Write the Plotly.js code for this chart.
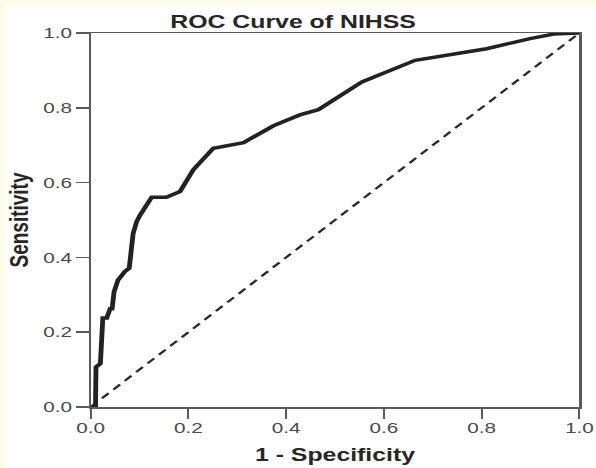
<!DOCTYPE html>
<html>
<head>
<meta charset="utf-8">
<script src="https://cdn.plot.ly/plotly-3.0.1.min.js"></script>
<style>
html,body{margin:0;padding:0;background:#fdfbea;width:596px;height:468px;overflow:hidden;}
#chart{position:absolute;left:5px;top:5px;width:428px;height:463px;transform:scaleX(1.38084);transform-origin:0 0;background:#fff;}
</style>
</head>
<body>
<div id="chart"></div>
<script>
// ROC curve points: 1 - Specificity (false positive rate) vs Sensitivity
const fpr = [0, 0.010, 0.011, 0.020, 0.025, 0.033, 0.040, 0.044, 0.048, 0.056, 0.070, 0.079, 0.087, 0.094, 0.101, 0.125, 0.155, 0.183, 0.210, 0.251, 0.313, 0.374, 0.428, 0.466, 0.555, 0.664, 0.810, 0.899, 0.947, 0.995, 1.000];
const tpr = [0, 0.000, 0.107, 0.116, 0.238, 0.238, 0.263, 0.263, 0.308, 0.339, 0.362, 0.371, 0.464, 0.495, 0.513, 0.561, 0.561, 0.576, 0.634, 0.692, 0.707, 0.752, 0.781, 0.795, 0.869, 0.927, 0.958, 0.985, 0.997, 1.000, 1.000];
// Reference (chance) diagonal
const refX = [0, 1];
const refY = [0, 1];
// Tick values and labels
const tickVals = [0, 0.2, 0.4, 0.6, 0.8, 1.0];
const tickText = ['0.0', '0.2', '0.4', '0.6', '0.8', '1.0'];

const FONT = 'Liberation Sans, Arial, Helvetica, sans-serif';

const traces = [
  {x: refX, y: refY, type: 'scatter', mode: 'lines',
   line: {color: '#2a2a2a', width: 2, dash: '7px,5px'}, hoverinfo: 'skip'},
  {x: fpr, y: tpr, type: 'scatter', mode: 'lines',
   line: {color: '#222222', width: 3.5}, hoverinfo: 'skip'}
];

const axisCommon = {
  range: [0, 1], tickvals: tickVals, ticktext: tickText,
  showgrid: false, zeroline: false, showline: true, mirror: true,
  linecolor: '#5a5a5a', linewidth: 1.5,
  ticks: 'outside', tickcolor: '#5a5a5a', tickwidth: 1.5,
  tickfont: {family: FONT, size: 15, color: '#4a4a4a'},
  fixedrange: true
};

const layout = {
  width: 428, height: 463,
  paper_bgcolor: '#ffffff', plot_bgcolor: '#ffffff',
  showlegend: false,
  margin: {l: 62, r: 12, t: 28, b: 61},
  title: {text: 'ROC Curve of NIHSS', xref: 'container', yref: 'container',
          x: 0.4874, xanchor: 'center', y: 1 - 17/463, yanchor: 'middle',
          font: {family: FONT, size: 18, color: '#262626', weight: 700}},
  xaxis: Object.assign({}, axisCommon, {ticklen: 10, ticklabelstandoff: -3,
          title: {text: '1 - Specificity', standoff: 13,
                  font: {family: FONT, size: 18, color: '#262626', weight: 700}}}),
  yaxis: Object.assign({}, axisCommon, {ticklen: 9,
          title: {text: 'Sensitivity', standoff: 8,
                  font: {family: FONT, size: 19, color: '#262626', weight: 700}}})
};

Plotly.newPlot('chart', traces, layout, {displayModeBar: false, staticPlot: true});
</script>
</body>
</html>
